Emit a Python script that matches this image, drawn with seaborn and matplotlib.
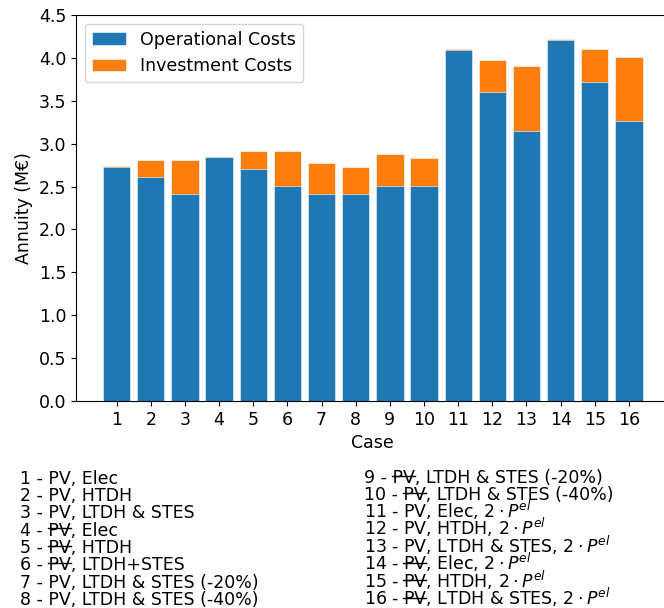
import matplotlib
matplotlib.use("Agg")
import matplotlib.pyplot as plt
from matplotlib.lines import Line2D
from matplotlib.patches import Patch
import seaborn as sns
import pandas as pd

# Annuity per case, in M€
cases = [str(i) for i in range(1, 17)]
operational = [2.73, 2.61, 2.41, 2.84, 2.71, 2.51, 2.41, 2.41,
               2.51, 2.51, 4.09, 3.60, 3.15, 4.21, 3.72, 3.26]
investment = [0.01, 0.20, 0.40, 0.00, 0.20, 0.40, 0.36, 0.32,
              0.37, 0.32, 0.01, 0.37, 0.75, 0.01, 0.38, 0.75]

# Case descriptions; PV is struck through where no PV is installed
no_pv = {4, 5, 6, 9, 10, 14, 15, 16}
case_descriptions = [
    "Elec",
    "HTDH",
    "LTDH & STES",
    "Elec",
    "HTDH",
    "LTDH+STES",
    "LTDH & STES (-20%)",
    "LTDH & STES (-40%)",
    "LTDH & STES (-20%)",
    "LTDH & STES (-40%)",
    r"Elec, $2 \cdot P^{el}$",
    r"HTDH, $2 \cdot P^{el}$",
    r"LTDH & STES, $2 \cdot P^{el}$",
    r"Elec, $2 \cdot P^{el}$",
    r"HTDH, $2 \cdot P^{el}$",
    r"LTDH & STES, $2 \cdot P^{el}$",
]

df = pd.DataFrame({"case": cases, "operational": operational,
                   "investment": investment})
df["total"] = df["operational"] + df["investment"]

plt.rcParams["font.size"] = 12.5
plt.rcParams["font.family"] = ["DejaVu Sans"]

W, H = 664, 608
fig = plt.figure(figsize=(W / 100, H / 100), dpi=100)
left, right, bottom, top = 76, 669.6, 401, 15
ax = fig.add_axes([left / W, 1 - bottom / H, (right - left) / W, (bottom - top) / H])

blue = "#1f77b4"
orange = "#ff7f0e"

# stacked bars: total (orange) underneath, operational (blue) drawn over it
sns.barplot(data=df, x="case", y="total", order=cases, color=orange,
            saturation=1, width=0.8, edgecolor="white", linewidth=0.4, ax=ax)
sns.barplot(data=df, x="case", y="operational", order=cases, color=blue,
            saturation=1, width=0.8, edgecolor="white", linewidth=0.4, ax=ax)

ax.set_xlim(-1.19, 16.19)
ax.set_ylim(0, 4.5)
ax.set_yticks([0.0, 0.5, 1.0, 1.5, 2.0, 2.5, 3.0, 3.5, 4.0, 4.5])
ax.set_yticklabels([f"{v:.1f}" for v in ax.get_yticks()])
ax.set_xlabel("Case")
ax.set_ylabel("Annuity (M€)")

handles = [Patch(facecolor=blue, edgecolor="white", linewidth=0.4),
           Patch(facecolor=orange, edgecolor="white", linewidth=0.4)]
ax.legend(handles, ["Operational Costs", "Investment Costs"], loc="upper left")

# case descriptions below the chart, in two columns
renderer = fig.canvas.get_renderer()


def text_width(s):
    t = fig.text(0, 0, s)
    w = t.get_window_extent(renderer).width
    t.remove()
    return w


pv_width = text_width("PV")
step = 17.4
for idx, desc in enumerate(case_descriptions):
    n = idx + 1
    col, row = divmod(idx, 8)
    x0 = 20 if col == 0 else 364
    y0 = (483.5 if col == 0 else 483) + row * step
    fig.text(x0 / W, 1 - y0 / H, f"{n} - PV, {desc}", ha="left", va="baseline")
    if n in no_pv:
        x_end = x0 + text_width(f"{n} - PV")
        x_start = x_end - pv_width
        ys = y0 - 7.3
        fig.add_artist(Line2D([(x_start - 0.5) / W, (x_end + 0.5) / W],
                              [1 - ys / H, 1 - ys / H],
                              transform=fig.transFigure, color="black",
                              linewidth=1.0))

fig.savefig("out.png", dpi=100)
